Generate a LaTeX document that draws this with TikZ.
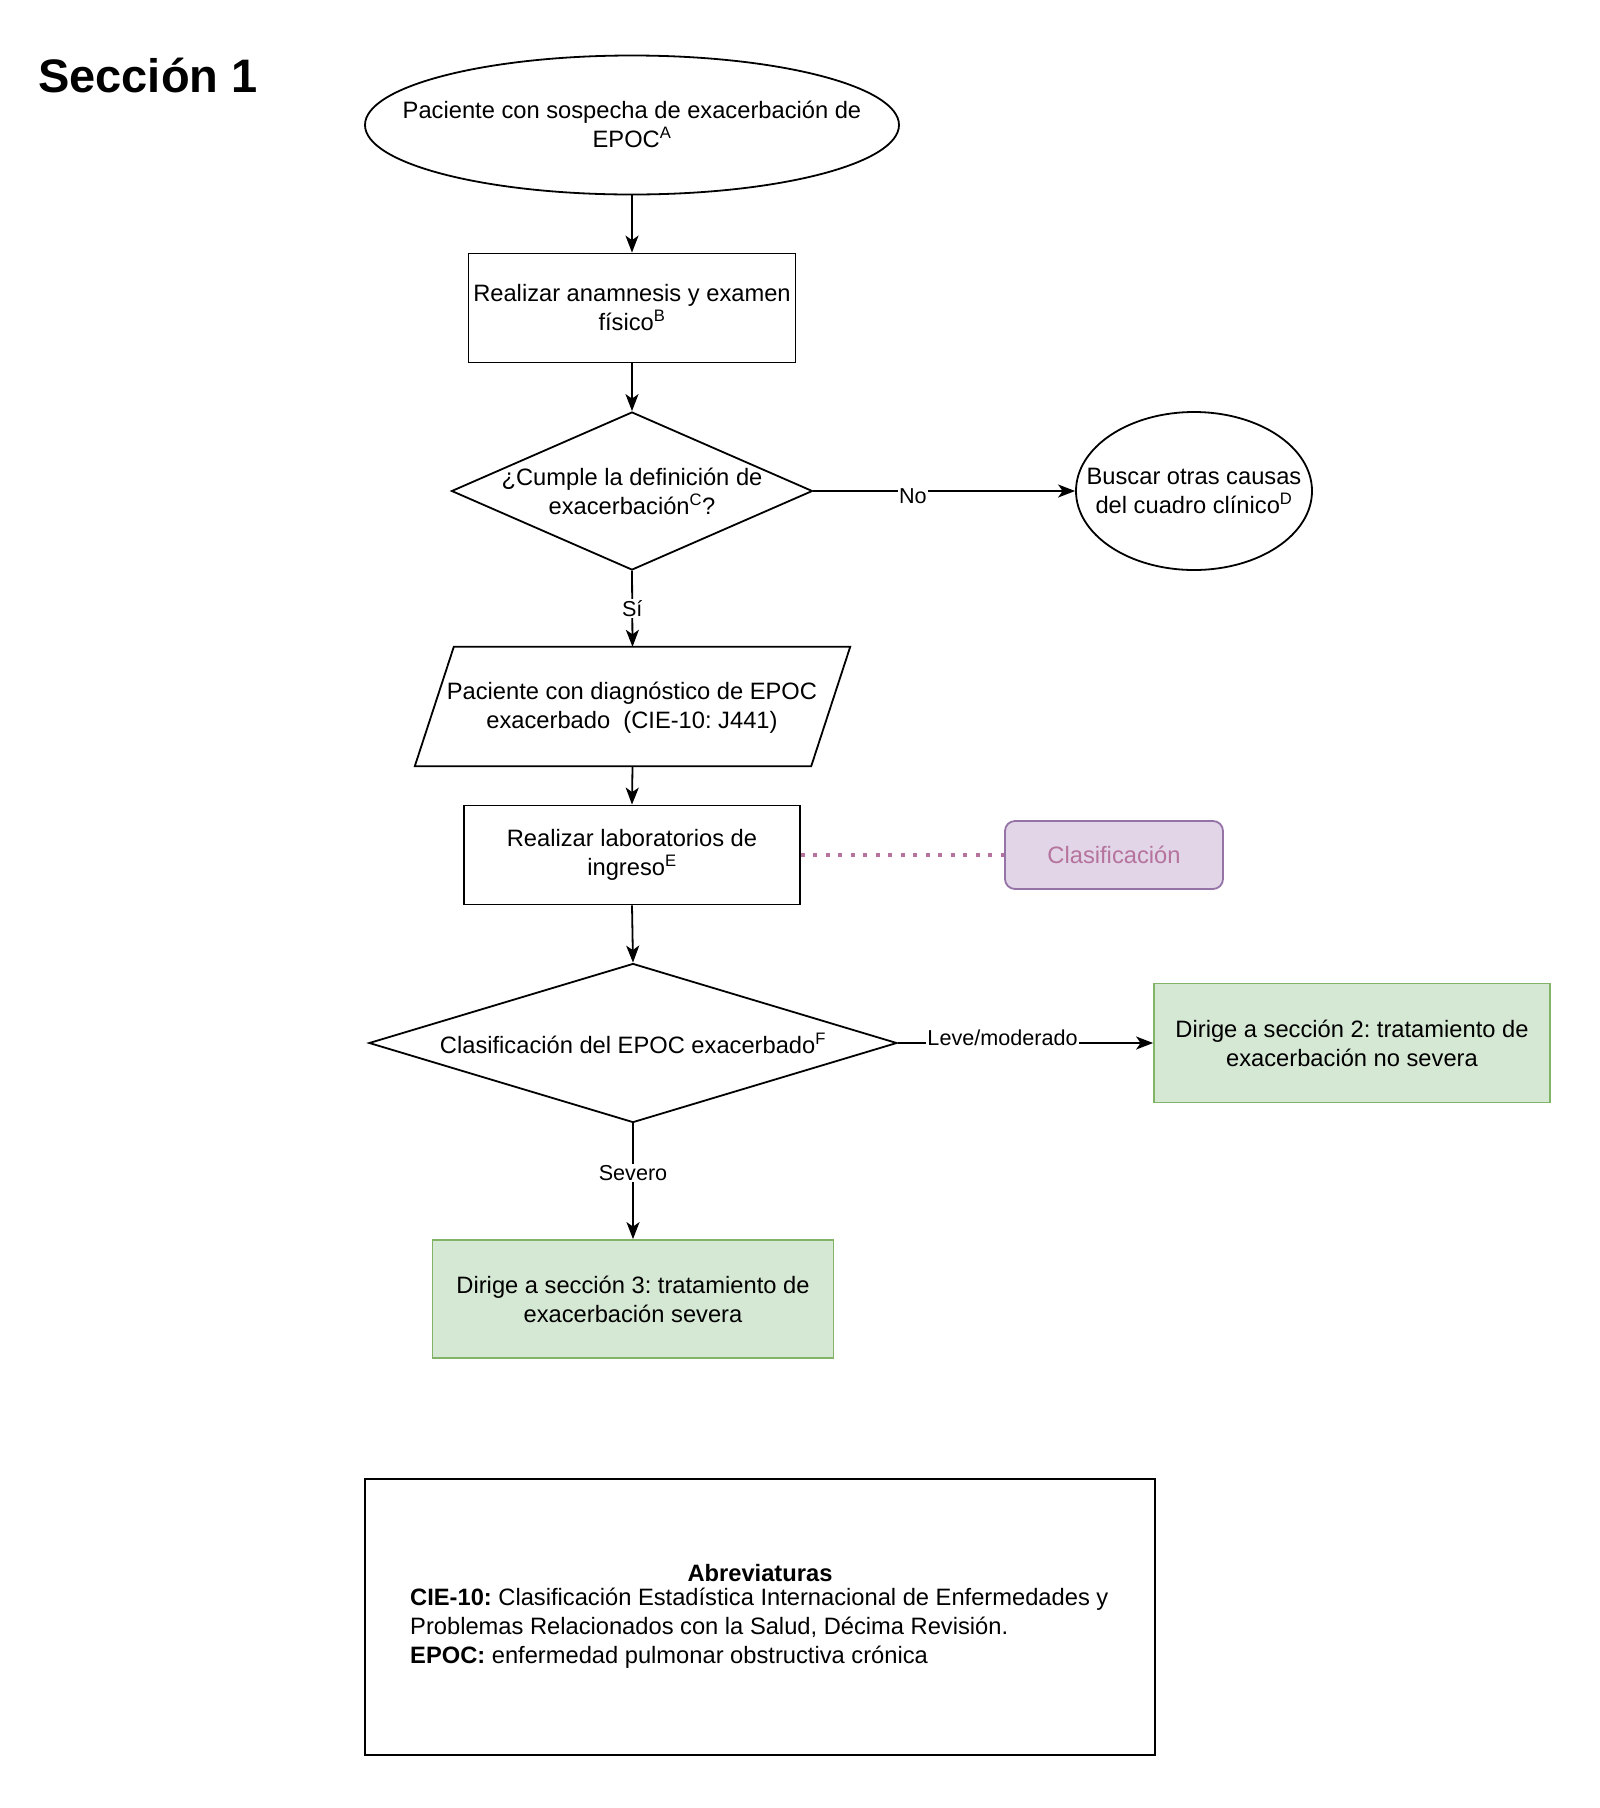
\documentclass[tikz,border=0pt]{standalone}
\usepackage{fontspec}
\setmainfont{Liberation Sans}
\frenchspacing
\usetikzlibrary{shapes.geometric,arrows.meta}
\definecolor{gfill}{HTML}{D5E8D4}
\definecolor{gline}{HTML}{82B366}
\definecolor{pfill}{HTML}{E1D5E7}
\definecolor{pline}{HTML}{9673A6}
\definecolor{ptext}{HTML}{B5739D}
\tikzset{
  base/.style={line width=1.8pt, draw=black, inner sep=0pt},
  txt/.style={inner sep=0pt, align=center, font=\fontsize{23.7}{29}\selectfont},
  lbl/.style={fill=white, inner sep=1.5pt, font=\fontsize{21.6}{26}\selectfont},
  arr/.style={line width=1.8pt, -{Stealth[length=17pt,width=13pt,inset=4.5pt]}},
  ell/.style={base, ellipse},
  dia/.style={base, diamond},
  boxr/.style={base, rectangle, txt},
  greenbox/.style={rectangle, draw=gline, fill=gfill, line width=1.8pt, txt},
}
\begin{document}
\begin{tikzpicture}[x=1pt,y=-1pt]
\useasboundingbox[fill=white] (0,0) rectangle (1600,1808);

\node[anchor=west, inner sep=0pt, font=\fontsize{47}{56}\bfseries\selectfont] (title) at (38,75) {Sección 1};

% Ellipse 1
\node[ell, minimum width=534, minimum height=139] (e1) at (632,125) {};
\node[txt] (e1t) at (632,124) {Paciente con sospecha de exacerbación de\\EPOC\textsuperscript{A}};

% Rect 1
\node[boxr, minimum width=327, minimum height=109] (r1) at (632,308) {Realizar anamnesis y examen\\físico\textsuperscript{B}};

% Diamond 1
\node[dia, minimum width=361, minimum height=158] (d1) at (632,491) {};
\node[txt] (d1t) at (632,491) {¿Cumple la definición de\\exacerbación\textsuperscript{C}?};

% Ellipse 2
\node[ell, minimum width=236, minimum height=158] (e2) at (1194,491) {};
\node[txt] (e2t) at (1194,491) {Buscar otras causas\\del cuadro clínico\textsuperscript{D}};

% Parallelogram
\node[inner sep=0pt, minimum width=396, minimum height=119] (p) at (632.5,706.5) {};
\draw[line width=1.8pt] ([xshift=19.5pt]p.north west) -- ([xshift=19.5pt]p.north east)
  -- ([xshift=-19.5pt]p.south east) -- ([xshift=-19.5pt]p.south west) -- cycle;
\node[txt] (pt) at (632,708) {Paciente con diagnóstico de EPOC\\exacerbado~~(CIE-10: J441)};

% Rect 2
\node[boxr, minimum width=336, minimum height=99] (r2) at (632,855) {Realizar laboratorios de\\ingreso\textsuperscript{E}};

% Clasificacion
\node[rectangle, rounded corners=10pt, draw=pline, fill=pfill, line width=1.8pt, minimum width=218, minimum height=68, txt, text=ptext] (cl) at (1114,855) {Clasificación};

% Diamond 2
\node[dia, minimum width=528, minimum height=159] (d2) at (633,1043) {};
\node[txt] (d2t) at (633,1043) {Clasificación del EPOC exacerbado\textsuperscript{F}};

% Green boxes
\node[greenbox, minimum width=396, minimum height=119] (g2) at (1352,1043) {Dirige a sección 2: tratamiento de\\exacerbación no severa};
\node[greenbox, minimum width=401, minimum height=118] (g3) at (633,1299) {Dirige a sección 3: tratamiento de\\exacerbación severa};

% Abbreviations
\node[base, rectangle, minimum width=790, minimum height=276] (ab) at (760,1617) {};
\node[txt] (abh) at (760,1573) {\textbf{Abreviaturas}};
\node[inner sep=0pt, anchor=north west, align=left, font=\fontsize{23.7}{29}\selectfont] (abt) at (410,1588)
  {\textbf{CIE-10:} Clasificación Estadística Internacional de Enfermedades y\\
   Problemas Relacionados con la Salud, Décima Revisión.\\
   \textbf{EPOC:} enfermedad pulmonar obstructiva crónica};

% Connectors
\draw[arr] (e1.south) -- (r1.north);
\draw[arr] (r1.south) -- (d1.north);
\draw[arr] (d1.east) -- node[lbl, pos=0.38, yshift=-5pt] {No} (e2.west);
\draw[arr] (d1.south) -- node[lbl, pos=0.5] {Sí} (p.north);
\draw[arr] (p.south) -- (r2.north);
\draw[arr] (r2.south) -- (d2.north);
\draw[arr] (d2.east) -- node[lbl, pos=0.41, yshift=5pt] {Leve/moderado} (g2.west);
\draw[arr] (d2.south) -- node[lbl, pos=0.43] {Severo} (g3.north);
\draw[draw=ptext, line width=4pt, dash pattern=on 4pt off 8.5pt] (r2.east) -- (cl.west);
\end{tikzpicture}
\end{document}
